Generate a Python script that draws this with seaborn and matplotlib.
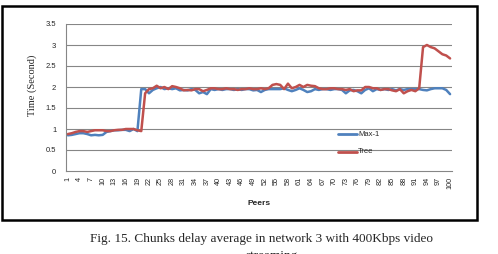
import matplotlib
matplotlib.use("Agg")
import matplotlib.pyplot as plt
import seaborn as sns
import pandas as pd
import numpy as np
from matplotlib.patches import Rectangle

peers = list(range(1, 101))
max1 = [0.85, 0.86, 0.88, 0.90, 0.90, 0.88, 0.85, 0.86, 0.85, 0.86,
        0.93, 0.95, 0.97, 0.97, 0.98, 0.98, 0.95, 1.00, 0.95, 1.95,
        1.95, 1.85, 1.93, 1.97, 2.00, 1.95, 1.97, 1.95, 1.97, 1.92,
        1.93, 1.92, 1.95, 1.93, 1.85, 1.88, 1.83, 1.95, 1.93, 1.95,
        1.93, 1.95, 1.95, 1.93, 1.95, 1.93, 1.95, 1.95, 1.92, 1.93,
        1.88, 1.93, 1.95, 1.95, 1.95, 1.95, 1.97, 1.93, 1.90, 1.93,
        1.97, 1.93, 1.88, 1.90, 1.95, 1.93, 1.95, 1.95, 1.93, 1.95,
        1.95, 1.93, 1.85, 1.92, 1.93, 1.90, 1.85, 1.93, 1.97, 1.90,
        1.95, 1.93, 1.95, 1.93, 1.95, 1.92, 1.95, 1.93, 1.95, 1.95,
        1.95, 1.95, 1.93, 1.92, 1.95, 1.97, 1.97, 1.97, 1.93, 1.83]
tree = [0.88, 0.90, 0.93, 0.95, 0.95, 0.93, 0.95, 0.97, 0.97, 0.97,
        0.95, 0.95, 0.97, 0.98, 0.98, 1.00, 1.00, 1.00, 0.97, 0.95,
        1.85, 1.95, 1.97, 2.03, 1.97, 2.00, 1.95, 2.02, 2.00, 1.97,
        1.92, 1.93, 1.92, 1.95, 1.95, 1.90, 1.93, 1.97, 1.97, 1.95,
        1.95, 1.97, 1.95, 1.95, 1.93, 1.95, 1.95, 1.97, 1.95, 1.95,
        1.97, 1.95, 1.97, 2.05, 2.07, 2.05, 1.95, 2.08, 1.97, 2.00,
        2.05, 2.00, 2.05, 2.03, 2.02, 1.97, 1.95, 1.95, 1.97, 1.97,
        1.95, 1.95, 1.93, 1.95, 1.90, 1.92, 1.92, 2.00, 2.00, 1.97,
        1.97, 1.93, 1.95, 1.95, 1.92, 1.90, 1.95, 1.85, 1.90, 1.93,
        1.90, 1.97, 2.95, 3.00, 2.95, 2.92, 2.85, 2.78, 2.75, 2.68]
series_names = ["Max-1", "Tree"]
tick_labels = [str(v) for v in range(1, 101, 3)]
y_ticks = [0, 0.5, 1, 1.5, 2, 2.5, 3, 3.5]

df = pd.DataFrame({
    "Peers": peers * 2,
    "Time": max1 + tree,
    "Series": [series_names[0]] * 100 + [series_names[1]] * 100,
})

sns.set_style("white")
plt.rcParams["font.family"] = ["Liberation Sans", "DejaVu Sans"]

fig = plt.figure(figsize=(4.98, 2.54), dpi=100)
# outer chart border
fig.patches.append(Rectangle((2 / 498, 1 - 220 / 254), 475 / 498, 214 / 254,
                             transform=fig.transFigure, fill=False,
                             edgecolor="black", linewidth=1.8))

ax = fig.add_axes([66 / 498, 1 - 171 / 254, 386 / 498, 147 / 254])
sns.lineplot(data=df, x="Peers", y="Time", hue="Series",
             palette=["#4F81BD", "#C0504D"], linewidth=1.8, ax=ax,
             legend=False)
ax.set_xlim(0.5, 100.5)
ax.set_ylim(0, 3.5)
ax.set_yticks(y_ticks)
ax.set_yticklabels(["0", "0.5", "1", "1.5", "2", "2.5", "3", "3.5"], fontsize=5.5)
ax.set_xticks(range(1, 101, 3))
ax.set_xticklabels(tick_labels, rotation=90, fontsize=5.2)
ax.tick_params(axis="x", length=2.5, width=0.6, color="#868686", pad=1.5)
ax.tick_params(axis="y", length=0, pad=7)
for yv in y_ticks[1:]:
    ax.axhline(yv, color="#868686", linewidth=0.8, zorder=0)
for s in ["top", "right"]:
    ax.spines[s].set_visible(False)
for s in ["left", "bottom"]:
    ax.spines[s].set_color("#868686")
    ax.spines[s].set_linewidth(0.8)
ax.set_xlabel("Peers", fontsize=6, fontweight="bold")
ax.xaxis.set_label_coords(0.5, -0.2)
ax.set_ylabel("Time (Second)", fontsize=7.5, family=["Liberation Serif"])
ax.yaxis.set_label_coords(-0.075, 0.58)

# legend
for i, (name, col) in enumerate(zip(series_names, ["#4F81BD", "#C0504D"])):
    yy = 1 - (134 + i * 17.5) / 254
    fig.lines.append(plt.Line2D([338 / 498, 357 / 498], [yy, yy],
                                transform=fig.transFigure, color=col, linewidth=2))
    fig.text(358 / 498, yy, name, fontsize=5.5, va="center", ha="left")

fig.text(261 / 498, 1 - 239 / 254,
         "Fig. 15. Chunks delay average in network 3 with 400Kbps video",
         fontsize=9.5, family=["Liberation Serif"], ha="center", va="center")
fig.text(272 / 498, 1 - 256 / 254, "streaming",
         fontsize=9.5, family=["Liberation Serif"], ha="center", va="center")

fig.savefig("out.png", dpi=100)
